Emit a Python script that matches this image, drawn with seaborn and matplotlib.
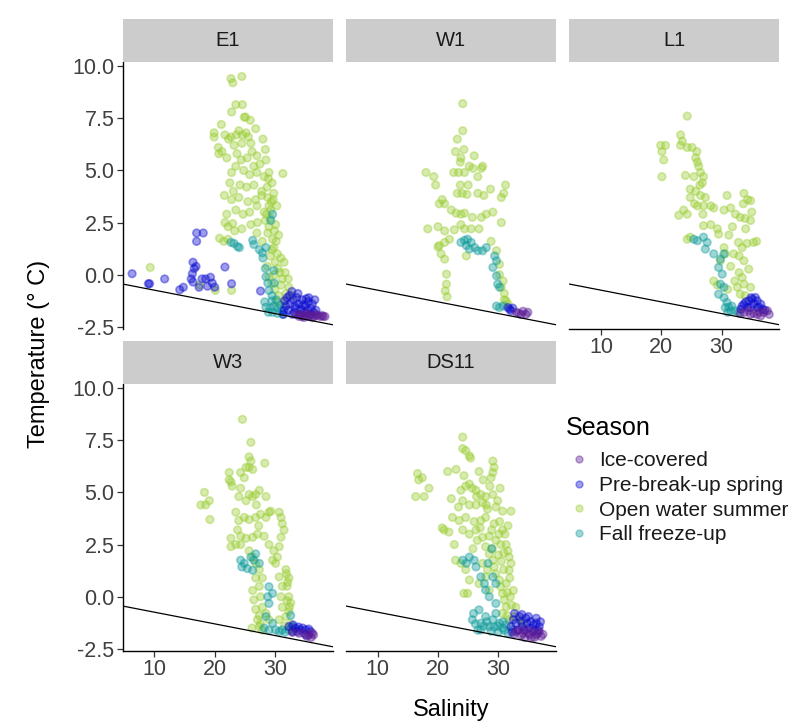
import matplotlib
matplotlib.use("Agg")
import matplotlib.pyplot as plt
from matplotlib.lines import Line2D
import seaborn as sns
import pandas as pd

sns.set_theme(style="white")
plt.rcParams["font.family"] = ["Liberation Sans", "DejaVu Sans"]
plt.rcParams["axes.unicode_minus"] = False

stations = ["E1", "W1", "L1", "W3", "DS11"]
seasons = ["Ice-covered", "Pre-break-up spring", "Open water summer", "Fall freeze-up"]
season_colors = ["#5A1A96", "#0A0AD0", "#9ACD32", "#0E9A9A"]
y_ticks = [-2.5, 0.0, 2.5, 5.0, 7.5, 10.0]
x_ticks = [10, 20, 30]

# Freezing-point line: T = intercept + slope * S
freeze_intercept = -0.18
freeze_slope = -0.056

# (salinity, temperature) samples per station and season
e1_summer = [(22.7, 9.4), (23.0, 9.2), (24.5, 9.5), (23.5, 8.15), (24.6, 8.15), (22.8, 7.8),
             (25.1, 7.55), (24.9, 7.55), (25.9, 7.4), (26.8, 7.0), (21.1, 7.2), (19.9, 6.8),
             (19.9, 6.6), (21.7, 6.7), (22.3, 6.5), (22.7, 6.6), (23.6, 6.7), (24.0, 6.9),
             (24.6, 6.7), (25.2, 6.8), (25.6, 6.6), (26.0, 6.3), (24.5, 6.3), (23.2, 6.2),
             (20.6, 6.1), (21.2, 5.9), (20.7, 5.8), (23.7, 5.8), (22.0, 5.6), (24.4, 5.5),
             (25.4, 5.6), (26.2, 5.9), (27.0, 5.7), (28.0, 6.5), (28.4, 6.0), (27.5, 5.3),
             (28.5, 5.5), (26.5, 5.2), (23.5, 5.2), (22.8, 4.9), (24.8, 5.0), (25.8, 4.8),
             (27.0, 4.9), (28.2, 4.7), (29.0, 4.9), (31.3, 4.85), (29.5, 4.4), (28.7, 4.2),
             (27.8, 4.0), (26.5, 4.3), (25.3, 4.2), (24.2, 4.3), (23.1, 4.0), (22.5, 4.4),
             (21.6, 3.8), (22.8, 3.6), (24.0, 3.7), (25.5, 3.5), (26.8, 3.6), (27.8, 3.8),
             (28.8, 3.7), (29.8, 3.9), (30.3, 3.3), (29.3, 3.1), (28.2, 3.0), (27.0, 3.3),
             (25.8, 3.0), (24.7, 2.9), (23.5, 3.1), (22.0, 2.9), (21.7, 2.5), (22.2, 2.3),
             (23.0, 2.45), (23.3, 2.1), (24.5, 2.2), (26.0, 2.4), (27.1, 2.5), (28.4, 2.6),
             (29.2, 2.7), (30.1, 2.4), (30.6, 1.9), (29.6, 1.7), (28.8, 2.0), (27.9, 1.6),
             (27.0, 2.0), (20.8, 1.75), (21.5, 1.6), (22.2, 1.7), (29.8, 1.3), (30.4, 1.0),
             (31.0, 0.8), (31.5, 0.6), (30.0, 0.6), (29.2, 0.9), (28.7, 0.4), (29.0, -0.1),
             (29.5, -0.4), (30.0, -0.7), (30.6, -1.0), (31.2, -0.2), (31.7, 0.1), (32.3, -0.6),
             (32.8, -1.0), (30.3, -1.3), (9.3, 0.35), (20.1, -0.75), (22.8, -0.75), (17.5, -0.5),
             (29.4, 3.5), (29.0, 3.3), (28.6, 2.9), (29.9, 2.1), (30.2, 1.6), (29.5, 1.2),
             (28.9, 4.6), (29.7, 3.6), (29.0, 2.3), (30.5, 0.3), (31.0, -0.5), (31.8, -0.9),
             (32.2, -0.2), (30.8, 0.1), (29.9, 0.0), (31.4, -1.3)]
e1_fall = [(22.7, 1.55), (23.2, 1.5), (23.8, 1.35), (24.1, 1.3), (26.3, 1.65), (26.5, 1.45),
           (27.4, 1.2), (27.9, 1.05), (28.5, 1.3), (29.6, 2.9), (29.3, 2.6), (28.0, 0.8),
           (28.5, -0.1), (28.8, -0.4), (29.0, -0.75), (29.5, -1.0), (28.5, -1.55), (29.2, -1.6),
           (29.8, -1.5), (30.5, -1.6), (31.1, -1.7), (29.5, -1.25), (30.2, -1.2), (29.8, 0.2),
           (28.3, -1.3), (28.9, -1.8), (29.6, -1.8), (30.4, -1.85), (30.9, -1.45), (31.3, -1.9),
           (28.4, 0.3), (29.9, -0.4)]
e1_spring = [(6.3, 0.05), (9.0, -0.43), (9.2, -0.43), (11.7, -0.2), (14.2, -0.72), (14.8, -0.6),
             (16.1, -0.2), (16.4, -0.35), (16.3, 0.05), (16.6, 0.3), (16.9, 0.4), (16.4, 0.6),
             (17.0, 2.0), (18.1, 2.0), (17.0, 1.6), (17.9, -0.2), (18.5, -0.2), (19.3, -0.12),
             (19.6, -0.4), (20.0, -0.6), (18.8, -0.55), (17.4, -0.6), (21.7, 0.37), (22.8, -0.43),
             (27.6, -0.78), (32.0, -1.1), (32.5, -1.4), (33.0, -1.2), (33.5, -1.6), (34.0, -1.4),
             (34.5, -1.2), (35.0, -1.5), (35.5, -1.3), (36.0, -1.6), (36.4, -1.8), (33.2, -1.8),
             (32.2, -1.7), (34.8, -1.8), (31.8, -1.5), (33.8, -0.9), (35.6, -1.1), (32.8, -0.8),
             (31.5, -1.7), (34.2, -1.9), (35.8, -1.9), (36.8, -1.7), (32.4, -1.0), (33.3, -1.5),
             (34.3, -1.65), (35.2, -1.15), (36.2, -1.4), (31.6, -1.25), (32.9, -1.9), (34.7, -1.45),
             (36.6, -1.2), (33.6, -1.1), (31.4, -1.9), (35.4, -1.7)]
e1_ice = [(33.5, -1.9), (34.0, -2.0), (34.5, -2.0), (35.0, -1.95), (35.5, -2.0), (36.0, -1.95),
          (36.5, -2.0), (37.0, -1.95), (37.5, -2.0), (38.0, -2.0), (38.3, -2.0), (35.3, -1.85),
          (36.8, -1.9), (34.2, -1.9), (37.8, -1.95), (36.2, -2.05), (34.8, -2.05)]

w1_summer = [(24.1, 8.2), (24.1, 6.9), (23.2, 6.5), (22.9, 5.9), (24.3, 6.0), (23.8, 5.6),
             (23.7, 5.4), (26.0, 5.7), (27.4, 5.2), (27.2, 5.1), (25.2, 5.2), (25.8, 5.1),
             (26.6, 4.7), (22.6, 4.9), (23.4, 4.9), (24.4, 4.9), (18.0, 4.9), (19.3, 4.7),
             (19.6, 4.3), (23.7, 4.3), (25.0, 4.3), (23.2, 3.9), (24.0, 3.9), (24.8, 3.85),
             (26.6, 3.9), (27.6, 3.8), (31.2, 4.3), (30.9, 3.9), (30.5, 3.7), (28.7, 4.1),
             (20.7, 3.6), (20.2, 3.4), (21.1, 3.4), (22.2, 3.1), (23.0, 2.95), (23.8, 2.9),
             (24.4, 2.95), (25.7, 2.75), (27.2, 2.75), (28.0, 2.9), (29.1, 3.0), (30.5, 2.5),
             (18.3, 2.2), (20.0, 2.3), (21.1, 2.1), (22.7, 2.15), (23.8, 2.4), (24.4, 2.2),
             (25.5, 2.2), (26.8, 2.2), (20.2, 1.4), (20.0, 1.33), (21.1, 1.55), (21.9, 1.7),
             (20.5, 1.0), (21.1, 0.75), (24.7, 0.9), (28.8, 1.6), (29.7, 1.15), (30.2, 0.5),
             (21.4, 0.03), (21.4, -0.45), (21.2, -0.77), (21.5, -1.05), (30.2, 0.0), (30.8, -0.3),
             (30.5, -0.6), (31.0, -0.9), (31.3, -1.25), (31.6, -1.4), (31.0, -1.2)]
w1_fall = [(23.8, 1.55), (24.4, 1.65), (24.9, 1.7), (25.5, 1.55), (26.1, 1.3), (26.6, 1.15),
           (27.4, 1.15), (28.0, 1.3), (24.7, 1.4), (25.2, 1.23), (29.4, 0.9), (29.7, 0.67),
           (29.1, 0.35), (29.7, -0.05), (29.9, -0.45), (30.2, -0.6), (29.7, -1.5), (30.2, -1.57),
           (30.8, -1.5)]
w1_spring = [(31.6, -1.57), (32.1, -1.73), (31.9, -1.65), (32.4, -1.6)]
w1_ice = [(33.0, -1.8), (33.8, -1.9), (34.6, -1.9), (34.9, -1.8), (34.1, -1.75), (33.4, -1.85)]

l1_summer = [(24.3, 7.6), (23.2, 6.7), (23.5, 6.4), (19.9, 6.2), (20.7, 6.2), (20.1, 5.9),
             (20.4, 5.5), (20.1, 4.7), (23.2, 6.2), (24.3, 6.1), (25.1, 6.1), (25.7, 5.6),
             (26.0, 5.4), (26.2, 5.2), (26.5, 4.9), (24.0, 4.76), (25.4, 4.7), (27.0, 4.7),
             (26.8, 4.4), (24.8, 4.1), (25.7, 4.0), (26.5, 3.8), (27.3, 3.7), (24.8, 3.7),
             (30.9, 3.8), (33.7, 3.9), (34.3, 3.6), (34.8, 3.55), (23.7, 3.1), (22.9, 2.85),
             (24.3, 2.9), (26.0, 3.3), (27.0, 3.3), (28.2, 3.3), (28.7, 3.2), (30.4, 3.1),
             (31.5, 3.2), (32.3, 2.9), (33.1, 2.75), (33.9, 2.7), (34.8, 2.6), (27.0, 2.35),
             (28.2, 2.4), (29.3, 2.2), (29.5, 1.95), (24.3, 1.7), (24.8, 1.8), (32.8, 1.55),
             (33.4, 1.3), (34.2, 1.5), (35.3, 1.55), (35.8, 1.6), (32.0, 1.0), (32.9, 0.9),
             (33.7, 0.67), (34.5, 0.27), (33.4, -0.13), (33.7, -0.45), (34.8, -0.6), (28.7, -0.3),
             (29.3, -0.5), (30.4, 1.3), (30.6, 1.0), (32.9, 0.1), (32.6, -0.6), (33.1, -0.93),
             (29.8, 0.67), (25.9, 5.9), (26.4, 4.3), (25.5, 3.4), (26.9, 2.9), (31.8, 2.3),
             (31.2, 1.9), (34.0, 2.2), (33.6, 3.4), (35.0, 3.0), (31.5, 0.4), (32.2, -0.3),
             (33.9, -1.0), (31.0, -0.7)]
l1_fall = [(25.4, 1.7), (26.0, 1.63), (27.0, 1.8), (27.6, 1.55), (27.3, 1.23), (28.7, 1.0),
           (29.8, 0.75), (30.4, 1.0), (29.5, 0.35), (30.1, 0.03), (29.8, -0.45), (30.4, -0.6),
           (29.5, -0.93), (30.4, -1.1), (30.9, -1.33), (30.6, -1.57), (31.5, -1.73), (32.3, -1.73),
           (31.7, -1.5), (31.0, -1.8), (32.8, -1.8), (31.2, -1.55)]
l1_spring = [(33.7, -1.41), (34.5, -1.25), (35.1, -1.17), (35.9, -1.25), (36.5, -1.41),
             (35.9, -1.57), (34.8, -1.57), (36.8, -1.65), (34.3, -1.57), (33.4, -1.5), (35.6, -1.09),
             (34.0, -1.3), (35.3, -1.4), (36.2, -1.55), (33.2, -1.65), (34.9, -1.1), (37.2, -1.7)]
l1_ice = [(33.7, -1.81), (34.8, -1.9), (35.9, -1.9), (37.0, -1.81), (37.9, -1.9), (37.6, -1.73),
          (34.5, -1.73), (36.5, -1.97), (35.3, -1.85), (36.2, -1.78), (33.1, -1.85)]

w3_summer = [(24.6, 8.5), (26.0, 7.4), (25.7, 6.7), (26.0, 6.5), (24.3, 5.95), (25.2, 6.2),
             (25.7, 6.2), (26.3, 6.1), (24.9, 5.7), (28.3, 6.4), (22.4, 5.95), (22.7, 5.5),
             (22.9, 5.3), (22.4, 5.6), (18.3, 5.0), (17.7, 4.4), (18.5, 4.4), (19.1, 4.6),
             (19.2, 3.7), (24.3, 5.2), (24.0, 4.8), (25.2, 4.6), (25.7, 4.9), (26.3, 4.8),
             (26.8, 4.9), (27.4, 5.1), (28.5, 4.8), (23.5, 4.05), (24.0, 3.65), (24.9, 3.8),
             (25.7, 3.7), (26.8, 3.8), (27.6, 3.95), (28.5, 3.8), (29.0, 4.05), (29.3, 4.1),
             (30.7, 4.05), (31.0, 3.8), (31.2, 3.5), (31.5, 3.2), (31.0, 2.85), (30.7, 2.4),
             (30.4, 1.9), (23.8, 3.2), (24.3, 2.9), (25.2, 2.8), (26.3, 2.85), (27.1, 3.0),
             (28.2, 2.9), (29.0, 2.5), (29.8, 2.2), (22.7, 2.8), (22.7, 2.4), (23.5, 2.5),
             (24.3, 2.5), (25.7, 2.2), (26.3, 1.9), (26.8, 1.6), (27.4, 1.3), (27.9, 0.9),
             (27.4, 0.5), (27.6, 0.0), (27.9, -0.5), (27.4, -0.9), (27.6, -1.3), (26.8, 0.9),
             (26.3, 0.3), (26.5, -0.15), (26.8, -0.6), (27.1, -1.1), (31.8, 1.3), (32.3, 0.9),
             (32.0, 0.5), (32.3, 0.0), (32.6, -0.3), (32.3, -0.7), (32.6, -1.3), (32.9, -1.6),
             (31.8, -0.95), (30.7, 0.95), (31.2, 0.5), (31.0, 0.0), (31.2, -0.5), (30.7, -1.1),
             (28.5, -0.8), (29.0, -1.1), (27.4, -1.43), (27.9, -1.6), (29.6, 1.75), (30.1, 1.6),
             (31.9, 1.1), (32.1, 0.7), (32.4, -0.5), (26.9, 4.4), (27.3, 3.4), (32.0, -0.2),
             (31.6, -1.4), (26.2, -1.5)]
w3_fall = [(24.3, 1.75), (24.9, 1.6), (25.4, 1.35), (26.0, 1.9), (26.5, 1.75), (26.8, 2.05),
           (27.4, 1.6), (24.5, 1.43), (29.0, 0.48), (28.8, 0.0), (29.0, -0.32), (28.5, -0.95),
           (29.6, -1.27), (30.1, -1.59), (30.7, -1.67), (31.2, -1.59), (32.3, -1.59), (32.9, -1.43),
           (26.3, 1.27), (29.6, 0.16), (28.2, -1.5), (29.0, -1.6), (31.7, -1.7), (32.6, -0.9)]
w3_spring = [(32.3, -1.43), (33.4, -1.51), (34.2, -1.59), (35.1, -1.59), (35.9, -1.67),
             (33.7, -1.67), (32.9, -1.67), (35.1, -1.83), (33.0, -1.35), (34.6, -1.5),
             (33.9, -1.45), (35.6, -1.55)]
w3_ice = [(34.8, -1.75), (35.6, -1.83), (36.2, -1.75), (36.4, -1.83), (34.0, -1.75), (32.9, -1.71),
          (35.3, -1.9), (36.0, -1.95)]

ds11_summer = [(24.1, 7.65), (24.1, 7.1), (24.6, 7.0), (25.2, 6.75), (25.4, 6.65), (29.1, 6.5),
               (29.3, 6.2), (29.1, 5.95), (28.8, 5.7), (23.0, 6.1), (21.6, 6.0), (16.6, 5.9),
               (16.8, 5.6), (17.4, 5.7), (18.5, 5.2), (16.3, 4.8), (17.7, 4.8), (24.3, 5.8),
               (24.6, 5.3), (25.2, 5.4), (25.7, 5.2), (26.3, 5.1), (27.1, 4.9), (27.9, 4.8),
               (29.1, 4.9), (24.1, 4.6), (25.2, 4.4), (26.3, 4.4), (27.4, 4.5), (28.2, 4.2),
               (29.6, 4.3), (30.7, 4.1), (22.4, 3.8), (23.5, 3.65), (24.6, 3.8), (26.0, 3.6),
               (27.1, 3.65), (27.9, 3.8), (29.3, 3.5), (30.2, 3.6), (20.7, 3.3), (21.0, 3.2),
               (21.8, 3.1), (22.7, 2.5), (24.1, 3.2), (25.2, 3.0), (26.3, 3.2), (27.4, 2.85),
               (28.5, 2.9), (29.6, 2.7), (30.4, 2.5), (30.7, 3.2), (22.9, 1.75), (23.8, 1.6),
               (24.6, 1.3), (25.2, 0.8), (24.3, 0.16), (24.9, 0.16), (27.9, 2.4), (28.5, 2.05),
               (29.1, 1.75), (29.3, 1.43), (29.6, 1.1), (30.2, 0.8), (30.4, 0.48), (30.7, 0.16),
               (31.0, -0.16), (31.3, -0.48), (30.7, -0.8), (31.8, -1.1), (31.3, 2.5), (31.6, 2.2),
               (31.8, 1.9), (32.1, 1.6), (31.8, 1.27), (31.3, 0.63), (27.4, 1.6), (27.9, 0.95),
               (26.8, 0.63), (28.5, 0.32), (32.7, -0.95), (33.5, -1.1), (34.1, -1.27), (32.1, 4.1),
               (28.6, 5.3), (27.5, 5.6), (26.8, 6.0), (30.3, 5.2), (29.9, 4.6), (31.1, 3.0),
               (30.0, 2.0), (29.0, 2.3), (28.2, 1.3), (31.9, 0.9), (31.5, 0.2), (32.2, -0.4),
               (26.5, 2.7), (25.8, 2.3), (27.0, 3.3), (23.4, 4.3), (22.2, 4.7), (30.9, 1.3),
               (32.5, 0.3), (32.0, 0.0), (32.9, -0.5), (31.5, -0.9), (30.5, 1.7), (30.9, 2.1),
               (31.6, 3.4), (30.1, 3.0), (28.9, 3.2), (28.0, 4.4), (26.4, 4.8), (23.8, 5.1)]
ds11_fall = [(24.1, 1.75), (24.7, 1.6), (25.2, 1.9), (26.0, 1.75), (26.3, 1.43), (27.1, 0.95),
             (27.7, 0.63), (27.9, 0.32), (28.5, 0.0), (29.1, 0.95), (29.6, 0.63), (29.6, -0.32),
             (26.8, -0.63), (27.9, -0.95), (29.1, -1.1), (30.2, -1.27), (31.3, -1.35), (27.1, -1.27),
             (28.5, -1.43), (30.7, -1.51), (32.4, -1.59), (29.6, -0.8), (25.7, -1.1), (27.1, -1.59),
             (28.9, 2.3), (28.3, 1.6), (29.9, -1.4), (31.0, -1.6), (26.2, -1.3), (27.6, -1.4),
             (28.8, -1.65), (30.0, -1.7), (31.6, -1.75), (26.6, -1.6), (28.1, -1.2), (29.3, -1.45),
             (30.8, -1.2), (25.9, -0.8)]
ds11_spring = [(32.7, -0.8), (33.5, -0.95), (34.6, -1.03), (35.4, -1.19), (36.3, -1.27),
               (36.8, -1.43), (32.9, -1.27), (34.0, -1.43), (35.2, -1.51), (36.0, -1.59),
               (33.8, -1.19), (32.1, -1.43), (36.3, -1.03), (33.2, -1.6), (34.8, -1.3),
               (32.5, -1.1), (33.9, -0.85), (35.0, -0.95), (35.8, -1.35), (37.0, -1.2),
               (34.3, -1.6), (32.3, -1.7), (36.6, -1.6)]
ds11_ice = [(32.9, -1.67), (34.1, -1.75), (35.2, -1.83), (36.3, -1.83), (37.1, -1.9),
            (34.6, -1.59), (35.7, -1.67), (36.8, -1.67), (33.5, -1.59), (35.0, -1.75), (36.5, -1.75),
            (33.8, -1.85), (35.5, -1.95), (37.4, -1.8), (34.4, -1.95), (36.0, -1.95), (32.6, -1.8)]

station_data = {
    "E1": [e1_summer, e1_fall, e1_spring, e1_ice],
    "W1": [w1_summer, w1_fall, w1_spring, w1_ice],
    "L1": [l1_summer, l1_fall, l1_spring, l1_ice],
    "W3": [w3_summer, w3_fall, w3_spring, w3_ice],
    "DS11": [ds11_summer, ds11_fall, ds11_spring, ds11_ice],
}
draw_order = ["Open water summer", "Fall freeze-up", "Pre-break-up spring", "Ice-covered"]

rows = []
for st, groups in station_data.items():
    for season, pts in zip(draw_order, groups):
        for s, t in pts:
            rows.append({"Station": st, "Season": season, "Salinity": s, "Temperature": t})
df = pd.DataFrame(rows)

W, H = 793, 728
fig = plt.figure(figsize=(W / 100, H / 100), dpi=100)

col_left = [122.7, 346.0, 569.3]
panel_w = 210.0
row_top = [62.3, 384.3]
panel_h = 266.7
strip_h = 43.5

layout = {"E1": (0, 0), "W1": (0, 1), "L1": (0, 2), "W3": (1, 0), "DS11": (1, 1)}
palette = dict(zip(seasons, season_colors))
tick_col = "#404040"

for st, (r, c) in layout.items():
    x0 = col_left[c]
    y0 = row_top[r]
    ax = fig.add_axes([x0 / W, 1 - (y0 + panel_h) / H, panel_w / W, panel_h / H])
    sub = df[df["Station"] == st]
    sns.scatterplot(data=sub, x="Salinity", y="Temperature", hue="Season",
                    palette=palette, alpha=0.4, s=30, edgecolor="face",
                    linewidth=1.2, legend=False, ax=ax, zorder=2)
    ax.axline((0, freeze_intercept), slope=freeze_slope, color="black", lw=0.9, zorder=3)
    ax.set_xlim(4.74, 39.57)
    ax.set_ylim(-2.6, 10.18)
    ax.set_xlabel("")
    ax.set_ylabel("")
    ax.set_facecolor("white")
    show_left = (c == 0)
    show_bottom = st in ("L1", "W3", "DS11")
    for side in ("top", "right"):
        ax.spines[side].set_visible(False)
    ax.spines["left"].set_visible(show_left)
    ax.spines["bottom"].set_visible(show_bottom)
    for side in ("left", "bottom"):
        ax.spines[side].set_color("black")
        ax.spines[side].set_linewidth(1.0)
    ax.set_yticks(y_ticks)
    ax.set_xticks(x_ticks)
    ax.tick_params(axis="both", which="both", length=4, width=0.9, color="#333333",
                   labelsize=15.5, labelcolor=tick_col, pad=2)
    if show_left:
        ax.set_yticklabels([f"{v:.1f}" for v in y_ticks])
        ax.tick_params(axis="y", left=True)
    else:
        ax.tick_params(axis="y", left=False, labelleft=False)
    if show_bottom:
        ax.set_xticklabels([str(v) for v in x_ticks])
        ax.tick_params(axis="x", bottom=True)
    else:
        ax.tick_params(axis="x", bottom=False, labelbottom=False)
    ax.grid(False)

    sax = fig.add_axes([x0 / W, 1 - y0 / H, panel_w / W, strip_h / H])
    sax.set_facecolor("#cccccc")
    for sp in sax.spines.values():
        sp.set_visible(False)
    sax.set_xticks([])
    sax.set_yticks([])
    sax.text(0.5, 0.5, st, ha="center", va="center", fontsize=14.5, color="#1a1a1a",
             transform=sax.transAxes)

fig.text(39 / W, 1 - 354 / H, "Temperature (° C)", rotation=90, ha="center", va="center",
         fontsize=17, color="black")
fig.text(451 / W, 1 - 710 / H, "Salinity", ha="center", va="center", fontsize=17, color="black")

# Legend in the empty facet slot
fig.text(566 / W, 1 - 428 / H, "Season", ha="left", va="center", fontsize=18, color="black")
handles = [Line2D([0], [0], marker="o", linestyle="", markersize=5,
                  markerfacecolor=col, markeredgecolor=col, alpha=0.4)
           for col in season_colors]
leg = fig.legend(handles, seasons, loc="upper left",
                 bbox_to_anchor=(566 / W, 1 - 451.5 / H), frameon=False,
                 fontsize=15, handletextpad=0.4, borderpad=0,
                 labelspacing=0.27, handlelength=1.2, borderaxespad=0)
for t in leg.get_texts():
    t.set_color("#1a1a1a")

fig.savefig("out.png", dpi=100, facecolor="white")
